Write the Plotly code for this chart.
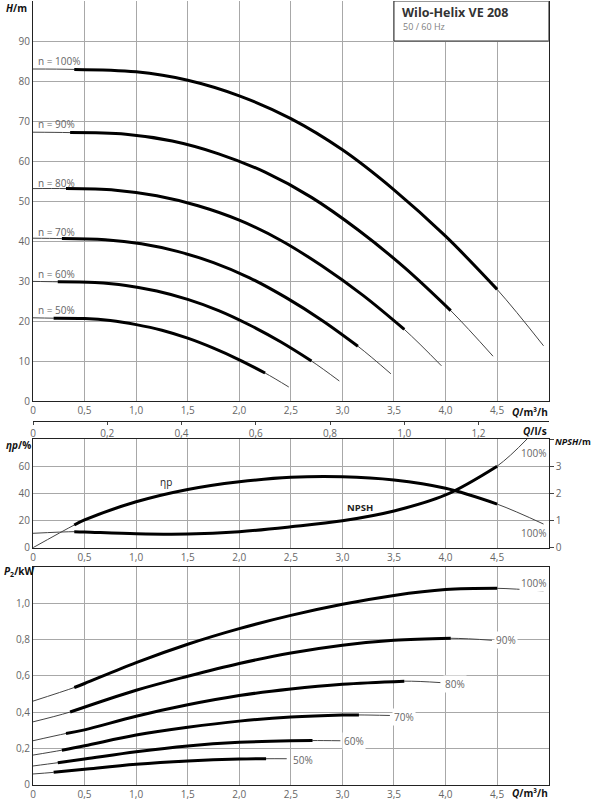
import plotly.graph_objects as go

# Q/m3/h tick positions and labels (decimal comma as in the datasheet)
q_ticks = [0, 0.5, 1.0, 1.5, 2.0, 2.5, 3.0, 3.5, 4.0, 4.5, 5.0]
q_labels = ["0", "0,5", "1,0", "1,5", "2,0", "2,5", "3,0", "3,5", "4,0", "4,5", ""]
qls_ticks = [0, 0.2, 0.4, 0.6, 0.8, 1.0, 1.2]
qls_labels = ["0", "0,2", "0,4", "0,6", "0,8", "1,0", "1,2"]
h_ticks = [0, 10, 20, 30, 40, 50, 60, 70, 80, 90, 100]
h_labels = ["0", "10", "20", "30", "40", "50", "60", "70", "80", "90", ""]
eta_ticks = [0, 20, 40, 60, 80]
eta_labels = ["0", "20", "40", "60", ""]
npsh_ticks = [0, 1, 2, 3, 4]
npsh_labels = ["0", "1", "2", "3", ""]
p_ticks = [0, 0.2, 0.4, 0.6, 0.8, 1.0, 1.2]
p_labels = ["0", "0,2", "0,4", "0,6", "0,8", "1,0", ""]

# H(Q) curves per speed  (first/last point = thin ends, rest drawn thick)
speeds = ["100%", "90%", "80%", "70%", "60%", "50%"]
q_h100 = [0, 0.4, 1.0, 1.5, 2.0, 2.5, 3.0, 3.5, 4.0, 4.5, 4.95]
h_100 = [83.0, 82.9, 82.3, 80.2, 76.3, 70.6, 62.8, 52.8, 41.2, 27.9, 13.8]
q_h90 = [0, 0.36, 0.9, 1.35, 1.8, 2.25, 2.7, 3.15, 3.6, 4.05, 4.46]
h_90 = [67.2, 67.1, 66.7, 65.0, 61.8, 57.2, 50.9, 42.8, 33.4, 22.6, 11.2]
q_h80 = [0, 0.32, 0.8, 1.2, 1.6, 2.0, 2.4, 2.8, 3.2, 3.6, 3.96]
h_80 = [53.1, 53.1, 52.7, 51.3, 48.8, 45.2, 40.2, 33.8, 26.4, 17.9, 8.8]
q_h70 = [0, 0.28, 0.7, 1.05, 1.4, 1.75, 2.1, 2.45, 2.8, 3.15, 3.47]
h_70 = [40.7, 40.6, 40.3, 39.3, 37.4, 34.6, 30.8, 25.9, 20.2, 13.7, 6.8]
q_h60 = [0, 0.24, 0.6, 0.9, 1.2, 1.5, 1.8, 2.1, 2.4, 2.7, 2.97]
h_60 = [29.9, 29.8, 29.6, 28.9, 27.5, 25.4, 22.6, 19.0, 14.8, 10.0, 5.0]
q_h50 = [0, 0.2, 0.5, 0.75, 1.0, 1.25, 1.5, 1.75, 2.0, 2.25, 2.48]
h_50 = [20.8, 20.7, 20.6, 20.1, 19.1, 17.7, 15.7, 13.2, 10.3, 7.0, 3.5]
h_label_y = [85.0, 69.2, 54.4, 42.3, 31.8, 22.8]

# efficiency and NPSH at 100%
q_eta = [0, 0.4, 0.5, 1.0, 1.5, 2.0, 2.5, 3.0, 3.5, 4.0, 4.5, 4.95]
eta = [0, 16.7, 20.4, 33.8, 42.9, 48.5, 51.8, 52.2, 49.8, 43.7, 32.1, 17.4]
q_npsh = [0, 0.4, 0.5, 1.0, 1.5, 2.0, 2.5, 3.0, 3.5, 4.0, 4.5, 4.79]
npsh = [0.53, 0.59, 0.58, 0.51, 0.50, 0.59, 0.77, 0.99, 1.35, 1.94, 3.0, 4.0]

# P2(Q) curves per speed
q_p100 = [0, 0.4, 0.5, 1.0, 1.5, 2.0, 2.5, 3.0, 3.5, 4.0, 4.5, 4.95]
p_100 = [0.46, 0.535, 0.557, 0.672, 0.773, 0.859, 0.932, 0.993, 1.042, 1.074, 1.081, 1.066]
q_p90 = [0, 0.36, 1.0, 1.5, 2.0, 2.5, 3.0, 3.5, 4.05, 4.45]
p_90 = [0.346, 0.40, 0.52, 0.597, 0.667, 0.725, 0.768, 0.795, 0.806, 0.795]
q_p80 = [0, 0.32, 0.5, 1.0, 1.5, 2.0, 2.5, 3.0, 3.6, 3.95]
p_80 = [0.242, 0.282, 0.302, 0.377, 0.440, 0.491, 0.527, 0.553, 0.570, 0.562]
q_p70 = [0, 0.28, 0.5, 1.0, 1.5, 2.0, 2.5, 3.0, 3.16, 3.46]
p_70 = [0.163, 0.19, 0.214, 0.273, 0.316, 0.350, 0.372, 0.383, 0.384, 0.381]
q_p60 = [0, 0.24, 0.5, 1.0, 1.5, 2.0, 2.5, 2.71, 2.98]
p_60 = [0.103, 0.121, 0.141, 0.181, 0.213, 0.233, 0.242, 0.243, 0.242]
q_p50 = [0, 0.2, 0.5, 1.0, 1.5, 2.0, 2.26, 2.46]
p_50 = [0.059, 0.068, 0.085, 0.112, 0.13, 0.141, 0.143, 0.143]
p_label_q = [4.85, 4.59, 4.09, 3.60, 3.11, 2.62]
p_label_y = [1.108, 0.799, 0.557, 0.374, 0.240, 0.136]

FONT = "Open Sans"
GRID = "#a8a8a8"
TICKC = "#666666"
W, H = 592, 800


def px_x(px):
    return px / W


def px_y(py):
    return 1 - py / H


fig = go.Figure()


def curve(q, v, xa, ya):
    # thin full curve, thick operating range on top
    fig.add_trace(go.Scatter(x=q, y=v, mode="lines", xaxis=xa, yaxis=ya,
                             line=dict(color="#444", width=1, shape="spline"),
                             hoverinfo="skip", showlegend=False))
    fig.add_trace(go.Scatter(x=q[1:-1], y=v[1:-1], mode="lines", xaxis=xa, yaxis=ya,
                             line=dict(color="black", width=3, shape="spline"),
                             hoverinfo="skip", showlegend=False))


for q, h in [(q_h100, h_100), (q_h90, h_90), (q_h80, h_80),
             (q_h70, h_70), (q_h60, h_60), (q_h50, h_50)]:
    curve(q, h, "x", "y")

curve(q_eta, eta, "x2", "y2")
curve(q_npsh, npsh, "x2", "y3")

for q, p in [(q_p100, p_100), (q_p90, p_90), (q_p80, p_80),
             (q_p70, p_70), (q_p60, p_60), (q_p50, p_50)]:
    curve(q, p, "x3", "y4")

# empty trace so the l/s axis gets drawn
fig.add_trace(go.Scatter(x=[], y=[], xaxis="x4", yaxis="y", showlegend=False))

xdom = [px_x(33), px_x(548.7)]


def xax(anchor):
    return dict(domain=xdom, anchor=anchor, range=[0, 5], tickvals=q_ticks,
                ticktext=q_labels, automargin=False,
                showgrid=True, gridcolor=GRID, gridwidth=1, zeroline=False,
                showline=True, linecolor="#222", linewidth=1, ticks="",
                tickfont=dict(family=FONT, size=10, color=TICKC), fixedrange=True)


def yax(anchor, dom, rng, tv, tt):
    return dict(domain=dom, anchor=anchor, range=rng, tickvals=tv, ticktext=tt,
                automargin=False,
                showgrid=True, gridcolor=GRID, gridwidth=1, zeroline=False,
                showline=True, linecolor="#222", linewidth=1, mirror=True, ticks="",
                tickfont=dict(family=FONT, size=10, color=TICKC), fixedrange=True)


fig.update_layout(
    width=W, height=H,
    margin=dict(l=0, r=0, t=0, b=0),
    paper_bgcolor="white", plot_bgcolor="rgba(0,0,0,0)",
    showlegend=False, hovermode=False,
    xaxis=xax("y"),
    yaxis=yax("x", [px_y(401), px_y(1)], [0, 100], h_ticks, h_labels),
    xaxis2=dict(xax("y2"), mirror=True),
    yaxis2=yax("x2", [px_y(547.7), px_y(439)], [0, 80], eta_ticks, eta_labels),
    yaxis3=dict(overlaying="y2", side="right", anchor="x2", range=[0, 4],
                tickvals=npsh_ticks, ticktext=npsh_labels, showgrid=False,
                automargin=False,
                zeroline=False, showline=True, linecolor="#222", ticks="outside",
                ticklen=4, tickcolor="#444",
                tickfont=dict(family=FONT, size=10, color=TICKC), fixedrange=True),
    xaxis3=dict(xax("y4"), mirror=True),
    yaxis4=yax("x3", [px_y(784.7), px_y(566.7)], [0, 1.2], p_ticks, p_labels),
    xaxis4=dict(domain=xdom, anchor="free", position=px_y(421), side="bottom",
                overlaying="x", automargin=False,
                range=[0, 1.3889], tickvals=qls_ticks, ticktext=qls_labels,
                showgrid=False, zeroline=False, showline=True, linecolor="#222",
                ticks="outside", ticklen=3, tickcolor="#444",
                tickfont=dict(family=FONT, size=10, color=TICKC), fixedrange=True),
)

# title box
fig.add_shape(type="rect", xref="x", yref="y", x0=3.5, x1=5.0, y0=90, y1=100,
              fillcolor="white", line=dict(color="#333", width=1), layer="above")
fig.add_annotation(xref="x", yref="paper", x=3.56, y=px_y(12), xanchor="left",
                   yanchor="middle", showarrow=False, text="<b>Wilo-Helix VE 208</b>",
                   font=dict(family=FONT, size=12.5, color="#333"))
fig.add_annotation(xref="x", yref="paper", x=3.57, y=px_y(27), xanchor="left",
                   yanchor="middle", showarrow=False, text="50 / 60 Hz",
                   font=dict(family=FONT, size=9, color="#808080"))

# speed labels, H panel
for s, yv in zip(speeds, h_label_y):
    fig.add_annotation(xref="x", yref="y", x=0.03, y=yv, xanchor="left", showarrow=False,
                       text="n = " + s, font=dict(family=FONT, size=10, color="#666"))

# eta / NPSH labels
fig.add_annotation(xref="x2", yref="y2", x=1.29, y=48.5, showarrow=False, text="ηp",
                   font=dict(family=FONT, size=10, color="#222"))
fig.add_annotation(xref="x2", yref="y2", x=3.17, y=29.4, showarrow=False, text="<b>NPSH</b>",
                   font=dict(family=FONT, size=9.5, color="#222"))
fig.add_annotation(xref="x2", yref="y2", x=4.85, y=69.8, showarrow=False, text="100%",
                   font=dict(family=FONT, size=10, color="#666"))
fig.add_annotation(xref="x2", yref="y2", x=4.85, y=10.6, showarrow=False, text="100%",
                   font=dict(family=FONT, size=10, color="#666"))

# speed labels, P2 panel
for s, xv, yv in zip(speeds, p_label_q, p_label_y):
    fig.add_annotation(xref="x3", yref="y4", x=xv, y=yv, showarrow=False, text=s,
                       bgcolor="white", borderpad=1,
                       font=dict(family=FONT, size=10, color="#666"))

# axis titles
ttl = dict(family=FONT, size=10, color="#111")
titles = [
    ("<b><i>H</i>/m</b>", 29, 8, "right", 10),
    ("<b><i>Q</i>/m³/h</b>", 550, 411.7, "right", 10),
    ("<b><i>Q</i>/l/s</b>", 549, 430.7, "right", 10),
    ("<b><i>ηp</i>/%</b>", 4, 445, "left", 10),
    ("<b><i>NPSH</i>/m</b>", 553, 441.7, "left", 9),
    ("<b><i>P</i><sub>2</sub>/kW</b>", 2, 571, "left", 10),
    ("<b><i>Q</i>/m³/h</b>", 550, 793, "right", 10),
]
for t, px_, py_, anc, sz in titles:
    fig.add_annotation(xref="paper", yref="paper", x=px_x(px_), y=px_y(py_),
                       xanchor=anc, yanchor="middle", showarrow=False, text=t,
                       font=dict(ttl, size=sz))

# the page body has a default 8 px margin; drop it so the chart fills the window
fig.write_html("out.html", config={"displayModeBar": False, "staticPlot": True},
               post_script="document.body.style.margin='0';")
